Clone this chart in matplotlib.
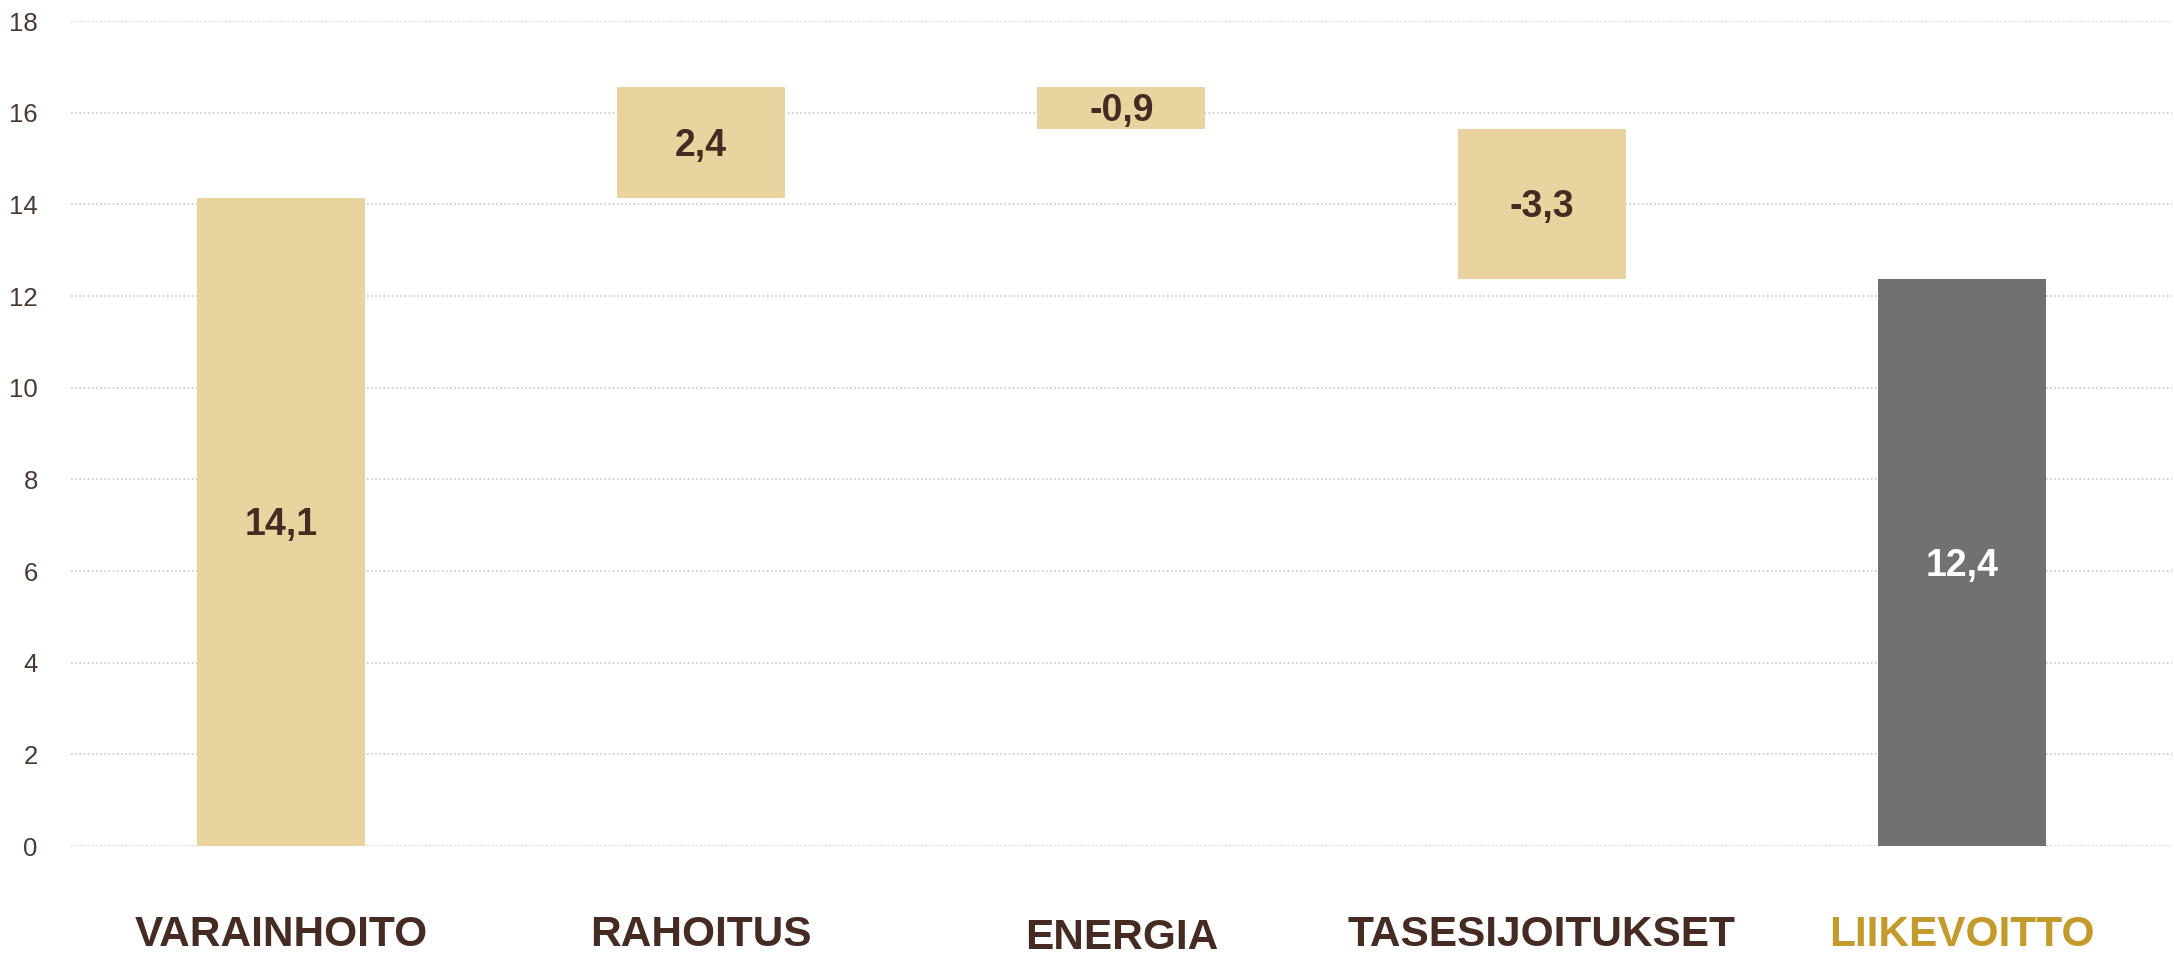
import matplotlib
matplotlib.use("Agg")
import matplotlib.pyplot as plt
from matplotlib import font_manager

# waterfall data
categories = ["VARAINHOITO", "RAHOITUS", "ENERGIA", "TASESIJOITUKSET", "LIIKEVOITTO"]
steps = [14.14, 2.42, -0.92, -3.26]
label_y = [-1.95, -1.95, -2.0, -1.93, -1.95]

TAN = "#E9D4A0"
GREY = "#727073"
BROWN = "#452B22"
GOLD = "#C49A2C"

names = {f.name for f in font_manager.fontManager.ttflist}
narrow = "Liberation Sans Narrow" in names
bold_family = ["Liberation Sans Narrow", "DejaVu Sans"] if narrow else ["Liberation Sans", "DejaVu Sans"]
val_size = 31 if narrow else 27
cat_size = 35 if narrow else 30.5

plt.rcParams["font.family"] = ["Liberation Sans", "DejaVu Sans"]

fig = plt.figure(figsize=(21.74, 9.56), dpi=100)
ax = fig.add_axes([0.0327, 0.115, 0.9663, 0.863])

# compute bottoms / heights
bottoms, heights, labels = [], [], []
running = 0.0
for i, s in enumerate(steps):
    if i == 0:
        bottoms.append(0.0)
        heights.append(s)
    else:
        bottoms.append(min(running, running + s))
        heights.append(abs(s))
    running += s
    labels.append(f"{s:.1f}".replace(".", ","))
total = running
bottoms.append(0.0)
heights.append(total)
labels.append(f"{total:.1f}".replace(".", ","))

colors = [TAN] * len(steps) + [GREY]
x = list(range(len(categories)))
ax.bar(x, heights, bottom=bottoms, width=0.4, color=colors, zorder=2)

for i in x:
    ax.text(i, bottoms[i] + heights[i] / 2 - 0.07, labels[i], ha="center", va="center",
            fontsize=val_size, fontweight="bold", family=bold_family,
            color="white" if i == len(x) - 1 else BROWN, zorder=3)
    ax.text(i, label_y[i], categories[i], ha="center", va="center",
            fontsize=cat_size, fontweight="bold", family=bold_family,
            color=GOLD if i == len(x) - 1 else BROWN, clip_on=False)

ax.set_xlim(-0.5, 4.5)
ax.set_ylim(0, 18)
ax.set_yticks(range(0, 19, 2))
ax.set_xticks([])
ax.yaxis.grid(True, linestyle=(0, (1, 1.5)), color="#C8C8C8", linewidth=1.2, zorder=0)
ax.tick_params(axis="y", length=0, pad=24, labelsize=18.5, labelcolor="#4A3A32")
for sp in ax.spines.values():
    sp.set_visible(False)

fig.savefig("out.png", dpi=100)
